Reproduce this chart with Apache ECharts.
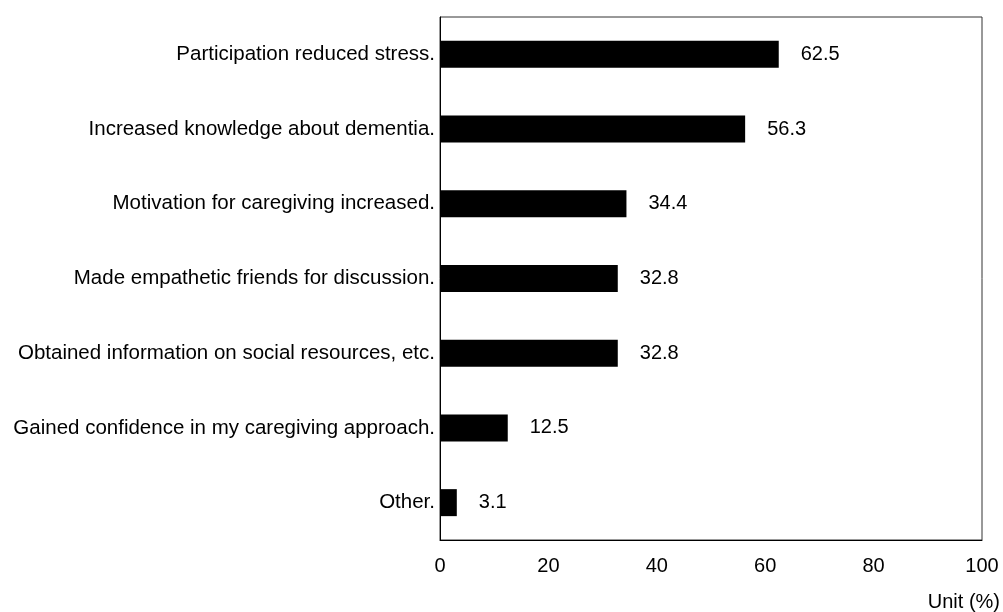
<!DOCTYPE html>
<html>
<head>
<meta charset="utf-8">
<style>
  html, body { margin: 0; padding: 0; background: #fff; }
  #chart { width: 1003px; height: 612px; }
</style>
<script src="https://cdn.jsdelivr.net/npm/echarts@6/dist/echarts.min.js"></script>
</head>
<body>
<div id="chart"></div>
<script>
// Reasons listed top to bottom
const categories = [
  'Participation reduced stress.',
  'Increased knowledge about dementia.',
  'Motivation for caregiving increased.',
  'Made empathetic friends for discussion.',
  'Obtained information on social resources, etc.',
  'Gained confidence in my caregiving approach.',
  'Other.'
];
const values = [62.5, 56.3, 34.4, 32.8, 32.8, 12.5, 3.1];
const xTicks = [0, 20, 40, 60, 80, 100];

const font = '"Liberation Sans", Arial, sans-serif';
const chart = echarts.init(document.getElementById('chart'), null, { renderer: 'canvas' });

chart.setOption({
  animation: false,
  backgroundColor: '#fff',
  grid: {
    left: 440, right: 21, top: 17, bottom: 70,
    show: true, borderColor: '#333', borderWidth: 1, backgroundColor: 'transparent'
  },
  xAxis: {
    type: 'value',
    min: xTicks[0], max: xTicks[xTicks.length - 1], interval: 20,
    name: 'Unit (%)',
    nameLocation: 'end',
    nameGap: 0,
    nameTextStyle: { color: '#000', fontFamily: font, fontSize: 20, align: 'right', verticalAlign: 'top', padding: [52, -18, 0, 0] },
    axisLine: { show: true, lineStyle: { color: '#000', width: 1 } },
    axisTick: { show: false },
    splitLine: { show: false },
    axisLabel: { color: '#000', fontFamily: font, fontSize: 20, margin: 16 }
  },
  yAxis: {
    type: 'category',
    inverse: true,
    data: categories,
    axisLine: { show: true, lineStyle: { color: '#000', width: 1 } },
    axisTick: { show: false },
    axisLabel: { color: '#000', fontFamily: font, fontSize: 20.5, margin: 5 }
  },
  series: [{
    type: 'bar',
    data: values,
    barWidth: 27,
    itemStyle: { color: '#000' },
    label: {
      show: true, position: 'right', distance: 22,
      color: '#000', fontFamily: font, fontSize: 20,
      formatter: p => p.value.toFixed(1)
    }
  }]
});
</script>
</body>
</html>
